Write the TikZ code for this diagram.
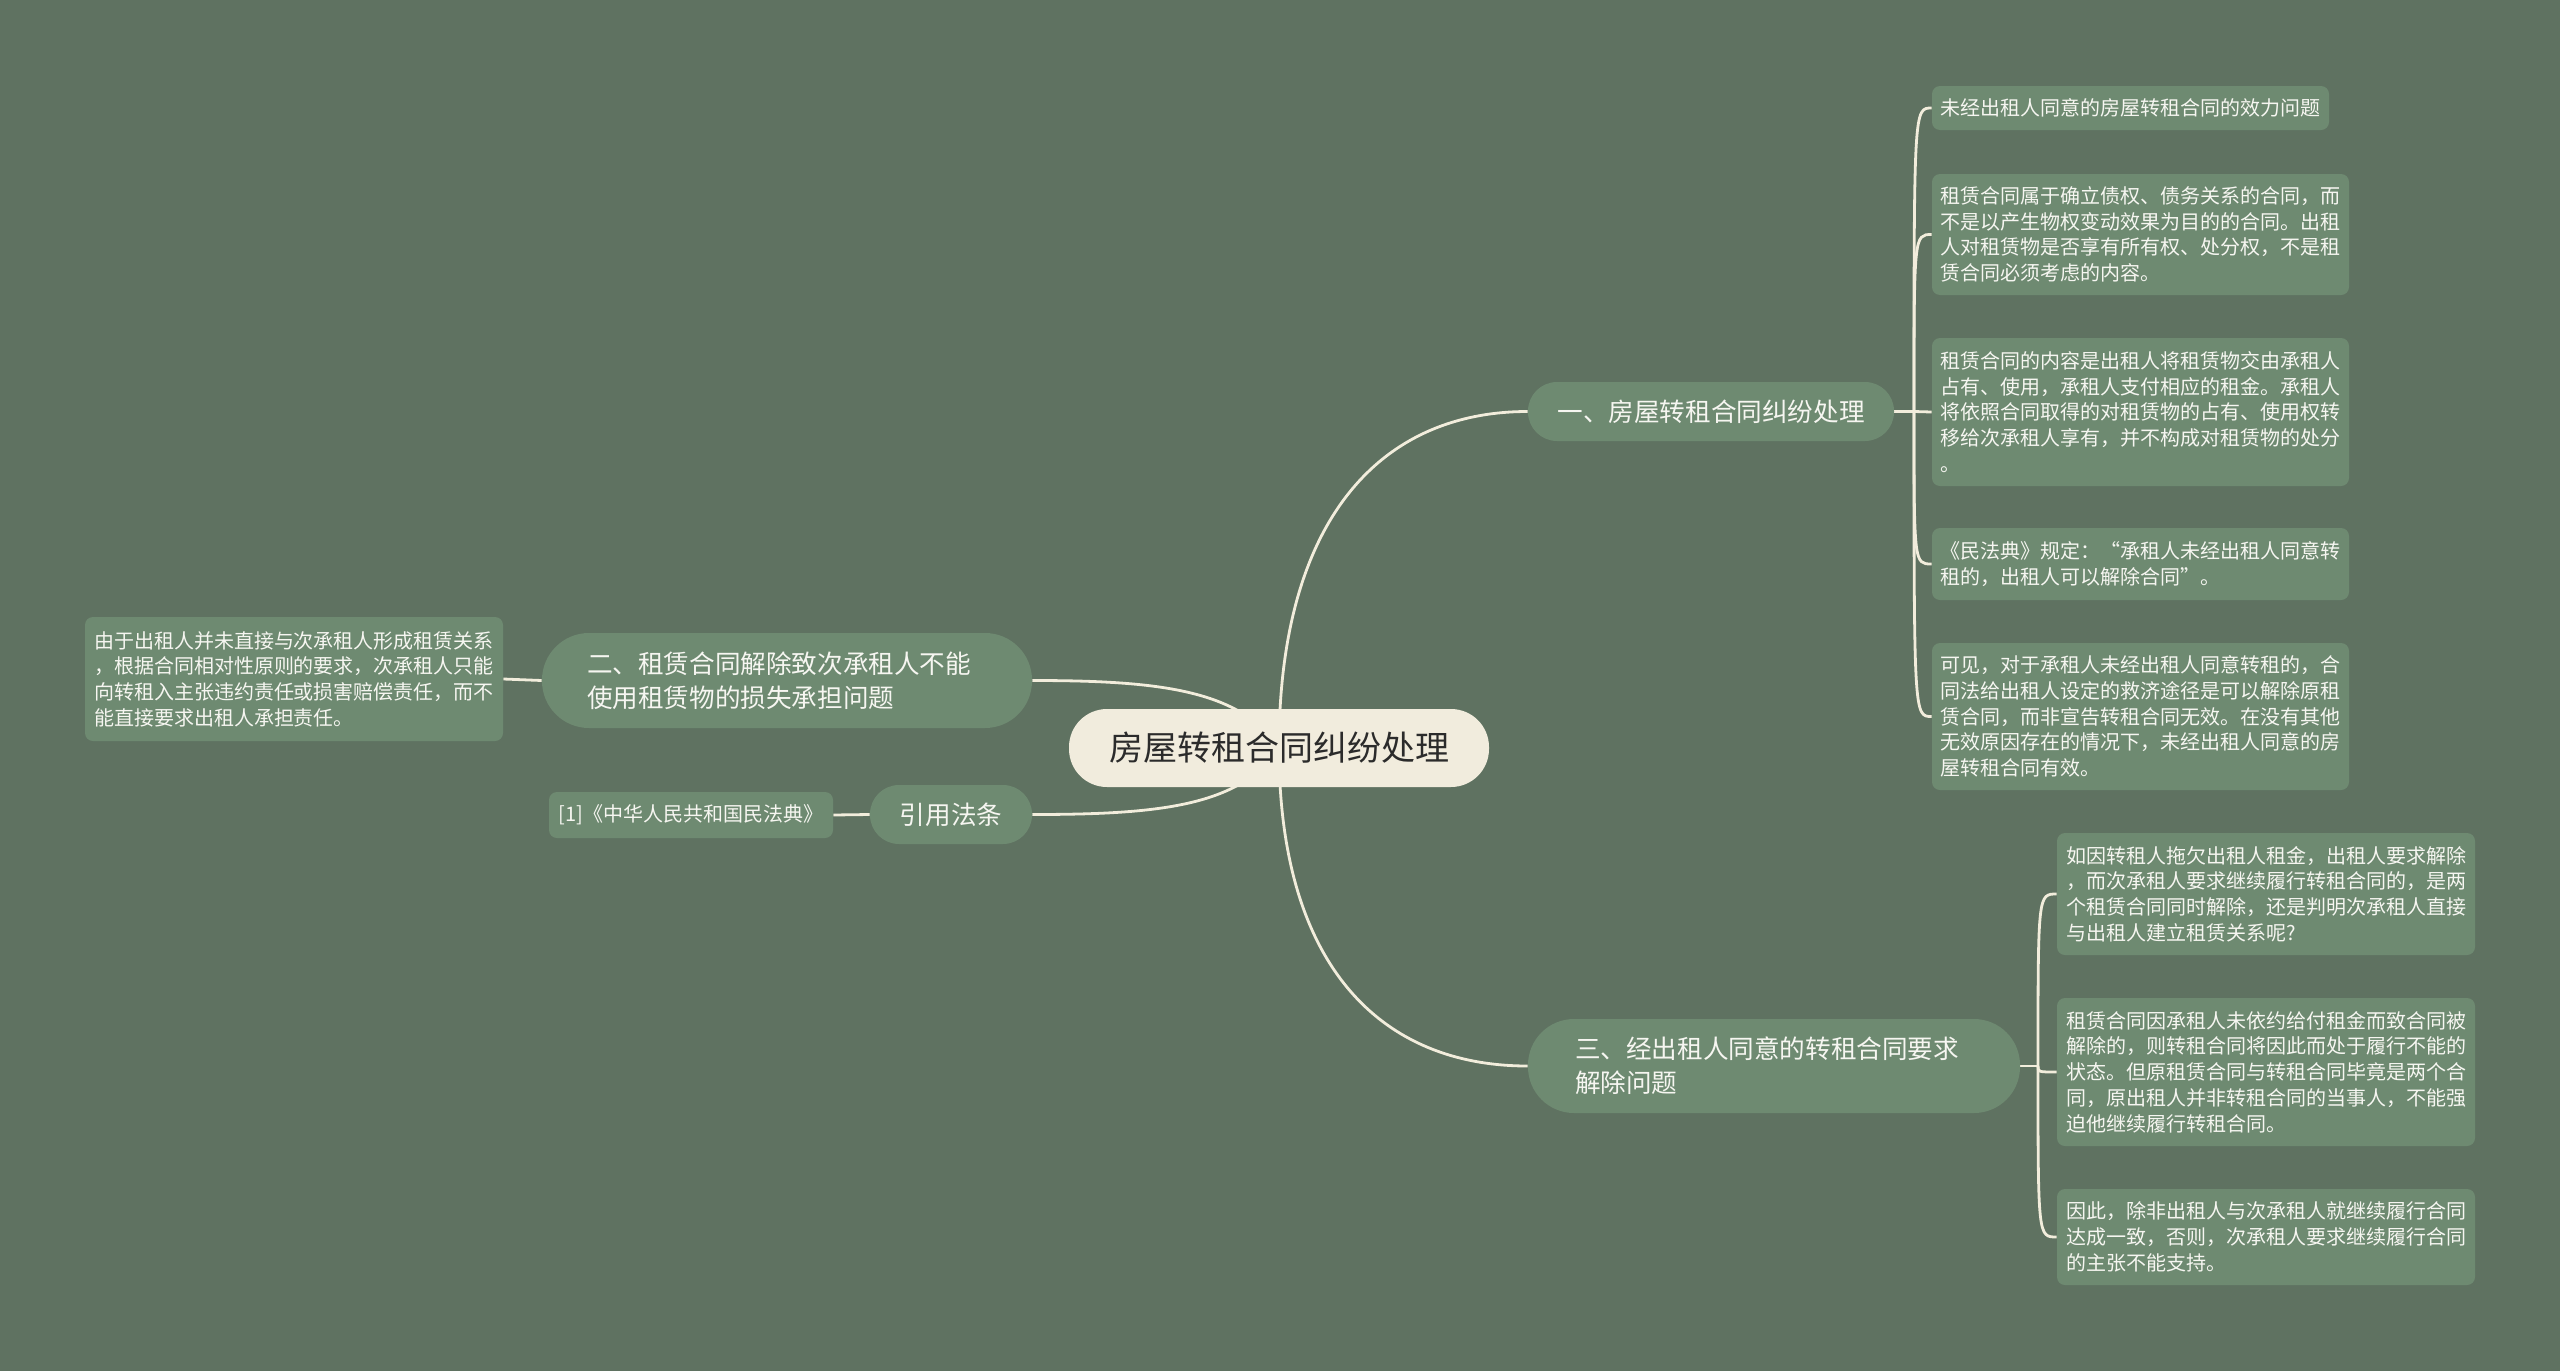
\documentclass[tikz,border=0pt]{standalone}
\usepackage{fontspec}
\setmainfont{Noto Sans CJK SC}
\definecolor{bgc}{HTML}{5F7261}
\definecolor{nodec}{HTML}{6E8A71}
\definecolor{linec}{HTML}{F2EDDC}
\definecolor{rootc}{HTML}{F1ECDD}
\definecolor{rtxt}{HTML}{2B2B2B}
\definecolor{ltxt}{HTML}{F6F6F1}
\pgfdeclarelayer{back}
\pgfdeclarelayer{edges}
\pgfsetlayers{back,edges,main}
\begin{document}
\begin{tikzpicture}[x=0.5pt,y=-0.5pt,
  conn/.style={draw=linec, line width=1.4pt},
  rootn/.style={fill=rootc, text=rtxt, font=\fontsize{17pt}{20pt}\selectfont, inner sep=0pt,
    minimum width=210pt, minimum height=39pt, rounded corners=19pt},
  br/.style={fill=nodec, text=ltxt, font=\fontsize{12.8pt}{17pt}\selectfont, align=left, inner sep=0pt},
  leaf/.style={fill=nodec, text=ltxt, font=\fontsize{10pt}{12.85pt}\selectfont, align=left, inner sep=0pt, rounded corners=4pt}]
\begin{pgfonlayer}{back}
\fill[bgc] (0,0) rectangle (2560,1371);
\end{pgfonlayer}
\useasboundingbox (0,0) rectangle (2560,1371);

\node[rootn] (root) at (1279,748) {房屋转租合同纠纷处理};
\node[br, minimum width=183pt, minimum height=29.5pt, rounded corners=14.5pt] (b1) at (1711,411.5) {一、房屋转租合同纠纷处理};
\node[br, text width=200pt, inner xsep=22.5pt, minimum height=47.5pt, rounded corners=23.5pt] (b2) at (787,680.5) {二、租赁合同解除致次承租人不能\\使用租赁物的损失承担问题};
\node[br, text width=199pt, inner xsep=23.5pt, minimum height=47pt, rounded corners=23pt] (b3) at (1774,1066) {三、经出租人同意的转租合同要求\\解除问题};
\node[br, minimum width=81pt, minimum height=29.5pt, rounded corners=14.5pt] (b4) at (951,814.5) {引用法条};

\node[leaf, minimum width=209pt, minimum height=62pt] (ll) at (294,679) {由于出租人并未直接与次承租人形成租赁关系\\，根据合同相对性原则的要求，次承租人只能\\向转租入主张违约责任或损害赔偿责任，而不\\能直接要求出租人承担责任。};
\node[leaf, minimum width=142pt, minimum height=23pt] (lc) at (691,815) {[1]《中华人民共和国民法典》};

\node[leaf, minimum width=198.5pt, minimum height=22pt] (l1) at (2130.5,108) {未经出租人同意的房屋转租合同的效力问题};
\node[leaf, minimum width=208.5pt, minimum height=60.5pt] (l2) at (2140.5,234.5) {租赁合同属于确立债权、债务关系的合同，而\\不是以产生物权变动效果为目的的合同。出租\\人对租赁物是否享有所有权、处分权，不是租\\赁合同必须考虑的内容。};
\node[leaf, minimum width=208.5pt, minimum height=74pt] (l3) at (2140.5,412) {租赁合同的内容是出租人将租赁物交由承租人\\占有、使用，承租人支付相应的租金。承租人\\将依照合同取得的对租赁物的占有、使用权转\\移给次承租人享有，并不构成对租赁物的处分\\。};
\node[leaf, minimum width=208.5pt, minimum height=36pt] (l4) at (2140.5,564) {《民法典》规定：“承租人未经出租人同意转\\租的，出租人可以解除合同”。};
\node[leaf, minimum width=208.5pt, minimum height=73.5pt] (l5) at (2140.5,716.5) {可见，对于承租人未经出租人同意转租的，合\\同法给出租人设定的救济途径是可以解除原租\\赁合同，而非宣告转租合同无效。在没有其他\\无效原因存在的情况下，未经出租人同意的房\\屋转租合同有效。};

\node[leaf, minimum width=209pt, minimum height=61pt] (m1) at (2266,894) {如因转租人拖欠出租人租金，出租人要求解除\\，而次承租人要求继续履行转租合同的，是两\\个租赁合同同时解除，还是判明次承租人直接\\与出租人建立租赁关系呢?};
\node[leaf, minimum width=209pt, minimum height=74pt] (m2) at (2266,1072) {租赁合同因承租人未依约给付租金而致合同被\\解除的，则转租合同将因此而处于履行不能的\\状态。但原租赁合同与转租合同毕竟是两个合\\同，原出租人并非转租合同的当事人，不能强\\迫他继续履行转租合同。};
\node[leaf, minimum width=209pt, minimum height=48pt] (m3) at (2266,1237) {因此，除非出租人与次承租人就继续履行合同\\达成一致，否则，次承租人要求继续履行合同\\的主张不能支持。};

\coordinate (s1) at (1914,411.5);
\coordinate (s3) at (2038,1066);

\begin{pgfonlayer}{edges}
\draw[conn] (root.center) .. controls (1279,520) and (1380,411.5) .. (b1.west);
\draw[conn] (root.center) .. controls (1279,965) and (1380,1066) .. (b3.west);
\draw[conn] (b2.east) .. controls (1160,680.5) and (1240,690) .. (root.center);
\draw[conn] (b4.east) .. controls (1160,814.5) and (1240,806) .. (root.center);
\draw[conn] (b2.west) -- (ll.east);
\draw[conn] (b4.west) -- (lc.east);
\draw[conn] (b1.east) -- (s1);
\draw[conn] (s1) .. controls (1914,108) and (1914,108) .. (l1.west);
\draw[conn] (s1) .. controls (1914,234.5) and (1914,234.5) .. (l2.west);
\draw[conn] (s1) -- (l3.west);
\draw[conn] (s1) .. controls (1914,564) and (1914,564) .. (l4.west);
\draw[conn] (s1) .. controls (1914,716.5) and (1914,716.5) .. (l5.west);
\draw[conn] (b3.east) -- (s3);
\draw[conn] (s3) .. controls (2038,894) and (2038,894) .. (m1.west);
\draw[conn] (s3) .. controls (2038,1072) and (2038,1072) .. (m2.west);
\draw[conn] (s3) .. controls (2038,1237) and (2038,1237) .. (m3.west);
\end{pgfonlayer}
\end{tikzpicture}
\end{document}
